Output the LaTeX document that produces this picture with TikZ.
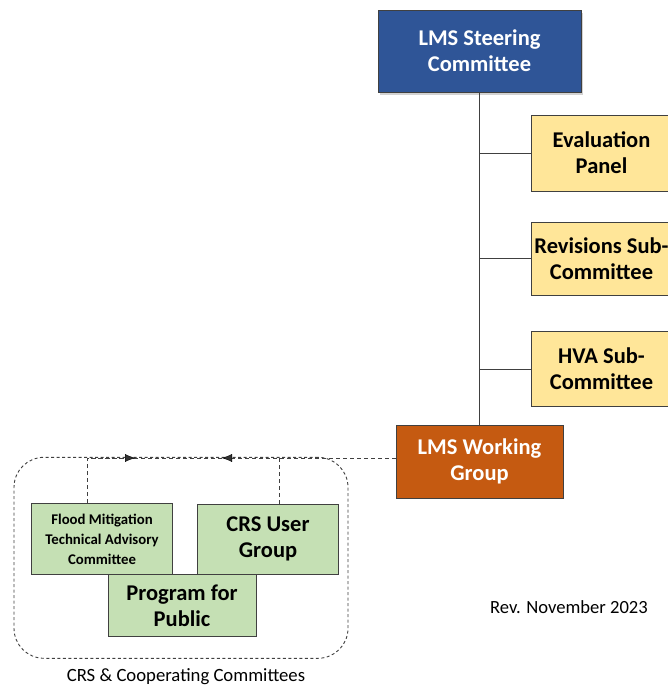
\documentclass[tikz,border=0pt]{standalone}
\usepackage{fontspec}
\setmainfont{Carlito}
\usetikzlibrary{arrows.meta,shadows,calc}
\definecolor{stblue}{HTML}{2F5597}
\definecolor{wgorange}{HTML}{C55A11}
\definecolor{ylw}{HTML}{FFE699}
\definecolor{grn}{HTML}{C5E0B4}
\definecolor{edge}{HTML}{404040}
\tikzset{
  box/.style={draw=edge, line width=0.9pt, inner sep=0pt, align=center, font=\bfseries\fontsize{22.5}{26}\selectfont},
  bluebox/.style={box, fill=stblue, text=white, drop shadow={shadow xshift=2pt, shadow yshift=-3pt, opacity=0.35, fill=gray}},
  orangebox/.style={box, fill=wgorange, text=white},
  yellowbox/.style={box, fill=ylw, text=black},
  greenbox/.style={box, fill=grn, text=black},
  link/.style={draw=edge, line width=0.9pt},
  dline/.style={draw=edge, line width=1pt, dash pattern=on 4pt off 3pt},
  headtip/.style={arrows={-Latex[length=10pt,width=8pt,fill=black!80]}}
}
\begin{document}
\begin{tikzpicture}[x=1pt,y=-1pt]
\useasboundingbox[fill=white] (0,0) rectangle (668,686);
% top boxes
\node[bluebox, minimum width=203pt, minimum height=82pt] (st) at (479.5,51) {LMS Steering\\Committee};
\node[yellowbox, minimum width=141pt, minimum height=76pt] (ev) at (601.5,153) {Evaluation\\Panel};
\node[yellowbox, minimum width=141pt, minimum height=73pt] (rv) at (601.5,258.5) {Revisions Sub-\\Committee};
\node[yellowbox, minimum width=141pt, minimum height=75pt] (hv) at (601.5,369) {HVA Sub-\\Committee};
\node[orangebox, minimum width=167pt, minimum height=73pt] (wg) at (479.5,461.5) {LMS Working\\Group};
% solid connectors
\draw[link] (st.south) -- (wg.north);
\draw[link] (st.south |- ev.west) -- (ev.west);
\draw[link] (st.south |- rv.west) -- (rv.west);
\draw[link] (st.south |- hv.west) -- (hv.west);
% container
\node[draw=edge, line width=0.9pt, dash pattern=on 3pt off 2.5pt, rounded corners=30pt, minimum width=334pt, minimum height=201pt, inner sep=0pt] (grp) at (181,557.8) {};
\node[font=\fontsize{18.7}{22}\selectfont, anchor=center] (grplbl) at (186,677) {CRS \& Cooperating Committees};
% green boxes
\node[greenbox, minimum width=141pt, minimum height=71pt, font=\bfseries\fontsize{14.8}{20}\selectfont] (fm) at (102,539) {Flood Mitigation\\Technical Advisory\\Committee};
\node[greenbox, minimum width=141pt, minimum height=70pt] (crs) at (268,539.3) {CRS User\\Group};
\node[greenbox, minimum width=148pt, minimum height=62pt] (pp) at (182,605.5) {Program for\\Public};
% dashed connectors
\coordinate (ln) at (0,458);
\coordinate (fmt) at (87,0);
\coordinate (crst) at (279,0);
\coordinate (a1) at (222,458);
\coordinate (a2) at (135,458);
\draw[dline] (a1) -- (fmt |- ln);
\draw[dline] (wg.west |- ln) -- (a1);
\draw[dline] (fmt |- fm.north) -- (fmt |- ln) -- (a2);
\draw[dline] (crst |- crs.north) -- (crst |- ln);
\draw[headtip, solid] ($(a1)+(3,0)$) -- (a1);
\draw[headtip, solid] ($(a2)-(3,0)$) -- (a2);
% revision note
\node[font=\fontsize{18.6}{22}\selectfont, anchor=center] (rev) at (569,607) {Rev. November 2023};
\end{tikzpicture}
\end{document}
